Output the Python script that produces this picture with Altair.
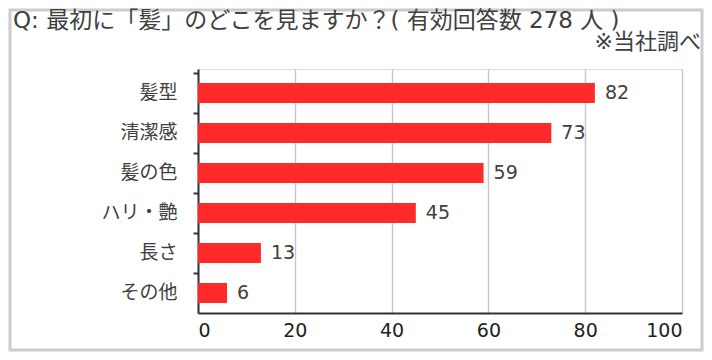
import altair as alt
import pandas as pd

categories = ["髪型", "清潔感", "髪の色", "ハリ・艶", "長さ", "その他"]
values = [82, 73, 59, 45, 13, 6]
x_ticks = [0, 20, 40, 60, 80, 100]
title_text = "Q: 最初に「髪」のどこを見ますか？( 有効回答数 278 人 )"
note_text = "※当社調べ"

df = pd.DataFrame({"cat": categories, "val": values})

W, H = 484, 244
FONT = "DejaVu Sans, 'Noto Sans CJK JP'"
TXT = "#404040"

base = alt.Chart(df)

bars = base.mark_bar(color="#FF2B2B", height=alt.RelativeBandSize(0.5)).encode(
    x=alt.X("val:Q",
            scale=alt.Scale(domain=[0, 100]),
            axis=alt.Axis(values=x_ticks, title=None, grid=True, gridColor="#c8c8c8",
                          gridWidth=1.5, ticks=False, domainColor="#333333", domainWidth=2,
                          labelFont=FONT, labelFontSize=19, labelColor="#222222",
                          labelPadding=8)),
    y=alt.Y("cat:N", sort=categories,
            scale=alt.Scale(paddingInner=0, paddingOuter=0.05, align=1),
            axis=alt.Axis(title=None, domainColor="#333333", domainWidth=2,
                          tickColor="#333333", tickWidth=2, tickSize=5, bandPosition=0,
                          labelFont=FONT, labelFontSize=19, labelColor=TXT,
                          labelPadding=16, grid=False)),
)

labels = base.mark_text(align="left", baseline="middle", dx=10, font=FONT,
                        fontSize=19, color=TXT).encode(
    x="val:Q", y=alt.Y("cat:N", sort=categories), text="val:Q")

title = alt.Chart(pd.DataFrame({"t": [title_text]})).mark_text(
    align="left", baseline="middle", font=FONT, fontSize=23, color=TXT
).encode(x=alt.value(-185), y=alt.value(-48), text="t:N")

note = alt.Chart(pd.DataFrame({"t": [note_text]})).mark_text(
    align="right", baseline="middle", font=FONT, fontSize=22, color=TXT
).encode(x=alt.value(503), y=alt.value(-27), text="t:N")

frame = alt.Chart(pd.DataFrame({"a": [0]})).mark_rect(
    fill=None, stroke="#cccccc", strokeWidth=3
).encode(x=alt.value(-188), x2=alt.value(W + 20), y=alt.value(-59), y2=alt.value(H + 37))

chart = alt.layer(frame, bars, labels, title, note).properties(
    width=W, height=H,
    padding={"left": 190, "top": 61, "right": 22, "bottom": 39},
    autosize=alt.AutoSizeParams(type="none"),
).configure_view(stroke=None).configure(background="white")

chart.save("out.html", embed_options={"renderer": "svg", "actions": False})
